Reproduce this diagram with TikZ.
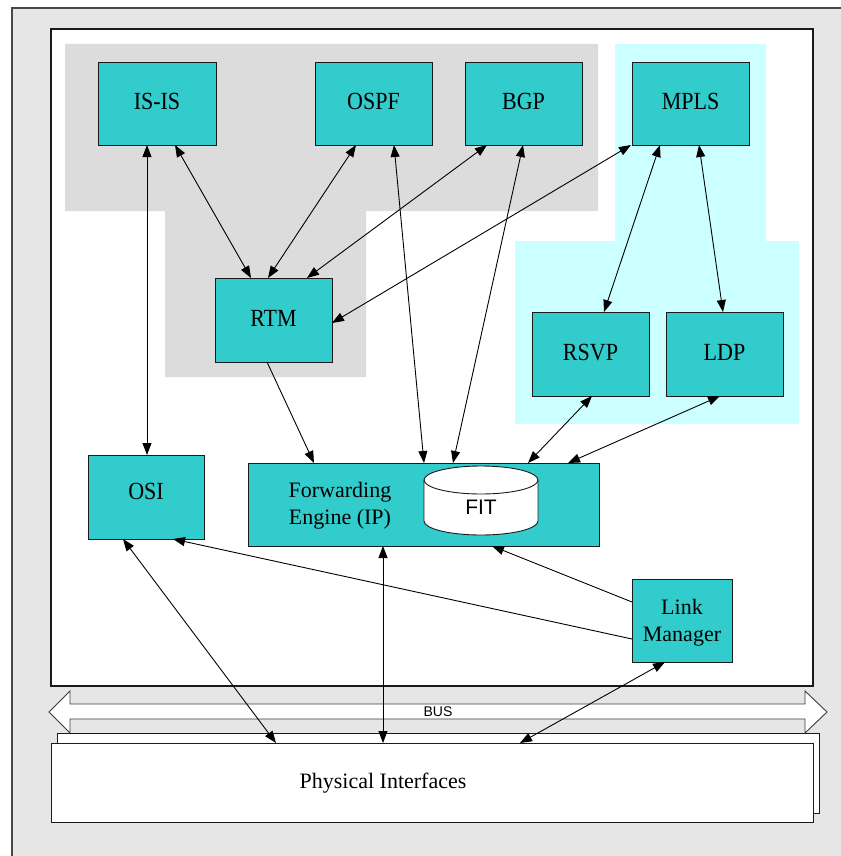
\documentclass[tikz,border=0pt]{standalone}
\usepackage{fontspec}
\usepackage{graphicx}
\setmainfont{Liberation Serif}
\newfontfamily\arialfont{Liberation Sans}
\usetikzlibrary{arrows.meta,calc}
\definecolor{framegray}{HTML}{E6E6E6}
\definecolor{zonegray}{HTML}{DCDCDC}
\definecolor{zonecyan}{HTML}{CCFFFF}
\definecolor{teal}{HTML}{33CCCC}
\definecolor{edge}{HTML}{1A1A1A}
% module captions are set slightly narrow and tall
\newcommand{\modcap}[1]{\scalebox{1}[1.12]{#1}}
\tikzset{
  box/.style={draw=edge, line width=0.9pt, fill=teal, rectangle, inner sep=0pt, outer sep=0pt,
    font=\fontsize{22}{26}\selectfont, align=center, text depth=4pt},
  lbl/.style={inner sep=0pt, font=\fontsize{22}{27}\selectfont, align=center},
  conn/.style={draw=black, line width=0.9pt, {Triangle[length=12pt,width=9pt]}-{Triangle[length=12pt,width=9pt]}},
  conn1/.style={draw=black, line width=0.9pt, -{Triangle[length=12pt,width=9pt]}}
}
\begin{document}
\begin{tikzpicture}[x=1pt,y=-1pt]
\useasboundingbox (0,0) rectangle (840,856);
% outer chassis and inner control panel
\draw[fill=framegray, draw=edge!80, line width=1.2pt] (12,8) rectangle (846,866);
\draw[fill=white, draw=edge, line width=1.1pt] (51,29) rectangle (813,686);
% routing protocol zone (grey) and MPLS zone (cyan)
\fill[zonegray] (65,44) -- (598,44) -- (598,211) -- (366,211) -- (366,377) -- (165,377) -- (165,211) -- (65,211) -- cycle;
\fill[zonecyan] (615,44) -- (766,44) -- (766,241) -- (799,241) -- (799,424) -- (515,424) -- (515,241) -- (615,241) -- cycle;
% bus double arrow
\draw[fill=white, draw=edge!85, line width=0.9pt]
  (49,712) -- (70,691) -- (70,704) -- (805,704) -- (805,691) -- (827,712)
  -- (805,733) -- (805,719) -- (70,719) -- (70,733) -- cycle;
\node[inner sep=0pt, font=\arialfont\fontsize{14}{16}\selectfont] (bus) at (438,711.5) {BUS};
% physical interfaces (stacked cards)
\draw[fill=white, draw=edge, line width=0.9pt] (57,733) rectangle (819,813);
\node[draw=edge, line width=0.9pt, fill=white, rectangle, inner sep=0pt, outer sep=0pt,
  minimum width=762pt, minimum height=79pt] (phys) at (432,782.5) {};
\node[lbl] (physlbl) at (383,783) {Physical Interfaces};
% protocol modules
\node[box, minimum width=118pt, minimum height=83pt] (isis) at (157,103.5) {\modcap{IS-IS}};
\node[box, minimum width=117pt, minimum height=83pt] (ospf) at (373.5,103.5) {\modcap{OSPF}};
\node[box, minimum width=117pt, minimum height=83pt] (bgp)  at (523.5,103.5) {\modcap{BGP}};
\node[box, minimum width=117pt, minimum height=83pt] (mpls) at (690.5,103.5) {\modcap{MPLS}};
\node[box, minimum width=117pt, minimum height=84pt] (rtm)  at (273.5,320) {\modcap{RTM}};
\node[box, minimum width=117pt, minimum height=84pt] (rsvp) at (590.5,354) {\modcap{RSVP}};
\node[box, minimum width=117pt, minimum height=84pt] (ldp)  at (724.5,354) {\modcap{LDP}};
\node[box, minimum width=116pt, minimum height=84pt, text depth=12pt] (osi) at (146,497) {\modcap{OSI}};
\node[box, minimum width=351pt, minimum height=83pt] (fe)   at (423.5,504.5) {};
\node[lbl] (fetext) at (340,505.5) {Forwarding\\Engine (IP)};
\node[box, minimum width=100pt, minimum height=83pt] (lm)   at (682,620.5) {};
\node[lbl] (lmtext) at (682,623) {Link\\Manager};
% forwarding information table
\draw[fill=white, draw=edge, line width=0.9pt]
  (424,480) -- (424,521) arc[start angle=180, end angle=360, x radius=57pt, y radius=14pt]
  -- (538,480) arc[start angle=0, end angle=180, x radius=57pt, y radius=14pt] -- cycle;
\draw[draw=edge, line width=0.9pt] (424,480) arc[start angle=180, end angle=360, x radius=57pt, y radius=14pt];
\node[inner sep=0pt, font=\arialfont\fontsize{21}{24}\selectfont] (fit) at (481,507) {FIT};
% connectors
\path[conn] ([xshift=-10pt]isis.south) -- ([xshift=-10pt]isis.south |- osi.north);
\path[conn] ([xshift=18pt]isis.south) -- ([xshift=-22.5pt]rtm.north);
\path[conn] ([xshift=-17.5pt]ospf.south) -- ([xshift=-5.5pt]rtm.north);
\path[conn] ([xshift=-36.5pt]bgp.south) -- ([xshift=33.5pt]rtm.north);
\path[conn] ([xshift=-1pt]mpls.south west) -- ([yshift=-3pt]rtm.east);
\path[conn] ([xshift=20.5pt]ospf.south) -- ([xshift=0.5pt]fe.north);
\path[conn] ([xshift=-0.5pt]bgp.south) -- ([xshift=29.5pt]fe.north);
\path[conn] ([xshift=-30.5pt]mpls.south) -- ([xshift=13.5pt]rsvp.north);
\path[conn] ([xshift=8.5pt]mpls.south) -- ([xshift=-1.5pt]ldp.north);
\path[conn1] ([xshift=-6.5pt]rtm.south) -- ([xshift=-109.5pt]fe.north);
\path[conn] ([xshift=1.5pt]rsvp.south) -- ([xshift=104.5pt]fe.north);
\path[conn] ([xshift=-4.5pt]ldp.south) -- ([xshift=144.5pt]fe.north);
\path[conn1] ([yshift=-18.5pt]lm.west) -- ([xshift=27pt]osi.south);
\path[conn1] ([yshift=18.5pt]lm.west) -- ([xshift=68.5pt]fe.south);
\path[conn] ([xshift=-17pt]lm.south) -- ([xshift=88pt]phys.north);
\path[conn] ([xshift=-40.5pt]fe.south) -- ([xshift=-40.5pt]fe.south |- phys.north);
\path[conn] ([xshift=-23pt]osi.south) -- ([xshift=-156pt]phys.north);
\end{tikzpicture}
\end{document}
